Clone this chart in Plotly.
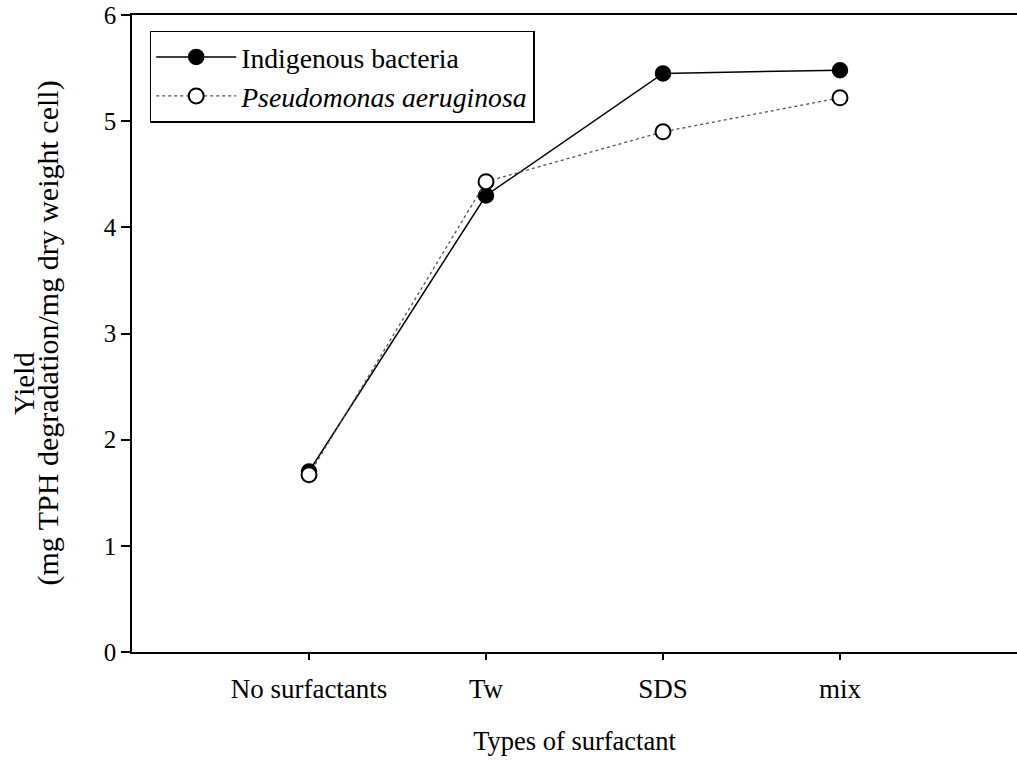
import plotly.graph_objects as go

categories = ["No surfactants", "Tw", "SDS", "mix"]
indigenous = [1.70, 4.30, 5.45, 5.48]
pseudomonas = [1.67, 4.43, 4.90, 5.22]

xpos = list(range(len(categories)))
font_family = "Liberation Serif"

fig = go.Figure()
fig.add_trace(go.Scatter(
    x=xpos, y=indigenous, mode="lines+markers", name="Indigenous bacteria",
    line=dict(color="black", width=1.5),
    marker=dict(symbol="circle", size=15, color="black", line=dict(color="black", width=1.5)),
))
fig.add_trace(go.Scatter(
    x=xpos, y=pseudomonas, mode="lines+markers", name="<i>Pseudomonas aeruginosa</i>",
    line=dict(color="#555555", width=1.3, dash="dot"),
    marker=dict(symbol="circle", size=15, color="white", line=dict(color="black", width=2)),
))

fig.update_layout(
    width=1017, height=763,
    margin=dict(l=132, r=0, t=15, b=111),
    paper_bgcolor="white", plot_bgcolor="white",
    font=dict(family=font_family, size=25, color="black"),
    showlegend=True,
    legend=dict(
        x=0.02, y=0.975, xanchor="left", yanchor="top",
        bordercolor="black", borderwidth=1.5, bgcolor="white",
        font=dict(family=font_family, size=27.7, color="black"),
        tracegroupgap=0, itemwidth=80,
    ),
    xaxis=dict(
        range=[-1, 4], tickmode="array", tickvals=xpos, ticktext=categories,
        showline=True, linecolor="black", linewidth=1.5, mirror=True,
        ticks="outside", ticklen=6, tickwidth=1.5, tickcolor="black",
        ticklabelstandoff=6,
        showgrid=False, zeroline=False,
        tickfont=dict(family=font_family, size=27),
        title=dict(text="Types of surfactant", font=dict(family=font_family, size=26.5), standoff=28),
    ),
    yaxis=dict(
        range=[0, 6], tickmode="array", tickvals=[0, 1, 2, 3, 4, 5, 6],
        showline=True, linecolor="black", linewidth=1.5, mirror=False,
        ticks="outside", ticklen=9, tickwidth=1.5, tickcolor="black",
        showgrid=False, zeroline=False,
        tickfont=dict(family=font_family, size=25),
    ),
    annotations=[
        dict(text="Yield", textangle=-90, xref="paper", yref="paper",
             x=-0.122, y=(652 - 384) / 637, xanchor="center", yanchor="middle",
             showarrow=False, font=dict(family=font_family, size=29, color="black")),
        dict(text="(mg TPH degradation/mg dry weight cell)", textangle=-90, xref="paper", yref="paper",
             x=-0.096, y=0.5, xanchor="center", yanchor="middle",
             showarrow=False, font=dict(family=font_family, size=30, color="black")),
    ],
)

fig.write_html("out.html")
